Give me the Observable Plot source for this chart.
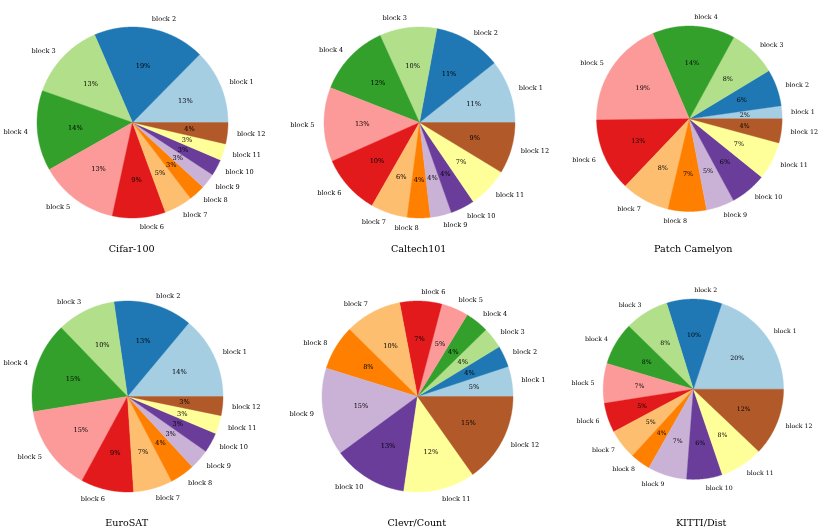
<!DOCTYPE html>
<html><head><meta charset="utf-8">
<script src="https://cdn.jsdelivr.net/npm/d3@7"></script>
<script src="https://cdn.jsdelivr.net/npm/@observablehq/plot@0.6"></script>
<style>
body{margin:0;background:#fff;}
#fig{position:relative;width:830px;height:530px;overflow:hidden;font-family:"DejaVu Serif",serif;background:#fff;}
.cell{position:absolute;will-change:transform;}
.cell svg text{text-rendering:geometricPrecision;}
.title{position:absolute;font-size:9.6px;transform:translate(-50%,-50%);white-space:nowrap;color:#000;font-family:"DejaVu Serif",serif;}
</style></head><body><div id="fig"></div>
<script>
// ---- data ----
const blocks = ["block 1","block 2","block 3","block 4","block 5","block 6","block 7","block 8","block 9","block 10","block 11","block 12"];
const cifar100      = [12.6, 18.9, 13.1, 13.6, 13.4, 9.0, 4.8, 2.8, 2.6, 2.8, 2.8, 3.6];
const caltech101    = [10.7, 11.4, 9.7, 12.3, 12.6, 10.1, 6.2, 3.9, 3.6, 4.1, 6.8, 8.7];
const patchCamelyon = [2.25, 6.4, 8.4, 14.4, 18.75, 12.7, 8.4, 6.7, 4.9, 6.3, 6.6, 4.2];
const eurosat       = [13.9, 13.3, 9.9, 15.3, 14.5, 8.9, 6.6, 4.2, 3.4, 3.4, 3.1, 3.2];
const clevrCount    = [5.1, 3.6, 3.6, 4.0, 4.6, 7.1, 9.6, 7.6, 14.9, 12.6, 12.1, 15.2];
const kittiDist     = [19.9, 9.9, 7.9, 7.7, 7.1, 5.3, 5.4, 3.6, 7.0, 6.4, 7.7, 12.1];
const titles = ["Cifar-100","Caltech101","Patch Camelyon","EuroSAT","Clevr/Count","KITTI/Dist"];
const series = [cifar100, caltech101, patchCamelyon, eurosat, clevrCount, kittiDist];

// ---- style / layout ----
const paired = ["#a6cee3","#1f78b4","#b2df8a","#33a02c","#fb9a99","#e31a1c","#fdbf6f","#ff7f00","#cab2d6","#6a3d9a","#ffff99","#b15928"];
const centers = [[131.7,121.7],[418.7,121.7],[693.3,121.7],[126.7,396],[416.8,396],[701.2,396]];
const titleY = [248,248,248,521.5,521.5,521.5];
const R = 95.5, W = 290, H = 270, CY = 130;

function pieChart(values) {
  const total = d3.sum(values);
  let acc = 0;
  const slices = values.map((v, i) => {
    const a0 = acc / total * 2 * Math.PI; acc += v;
    const a1 = acc / total * 2 * Math.PI;
    return {block: blocks[i], pct: v / total * 100, mid: (a0 + a1) / 2, a0, a1};
  });
  const poly = slices.flatMap(s => {
    const n = Math.max(2, Math.ceil((s.a1 - s.a0) / (Math.PI / 360)));
    const pts = [{block: s.block, x: 0, y: 0}];
    for (let k = 0; k <= n; k++) {
      const t = s.a0 + (s.a1 - s.a0) * k / n;
      pts.push({block: s.block, x: Math.cos(t), y: Math.sin(t)});
    }
    pts.push({block: s.block, x: 0, y: 0});
    return pts;
  });
  const lx = d => 1.1 * Math.cos(d.mid), ly = d => 1.1 * Math.sin(d.mid);
  return Plot.plot({
    width: W, height: H, margin: 0,
    x: {domain: [-W / 2 / R, W / 2 / R], axis: null},
    y: {domain: [-(H - CY) / R, CY / R], axis: null},
    color: {domain: blocks, range: paired},
    style: {background: "transparent", overflow: "visible", fontFamily: "DejaVu Serif, serif", fontSize: "6.6px", color: "black"},
    marks: [
      Plot.line(poly, {x: "x", y: "y", z: "block", fill: "block", stroke: "block", strokeWidth: 0.4, curve: "linear"}),
      Plot.text(slices, {filter: d => Math.cos(d.mid) > 0, x: lx, y: ly, text: "block", textAnchor: "start", fill: "black"}),
      Plot.text(slices, {filter: d => !(Math.cos(d.mid) > 0), x: lx, y: ly, text: "block", textAnchor: "end", fill: "black"}),
      Plot.text(slices, {x: d => 0.6 * Math.cos(d.mid), y: d => 0.6 * Math.sin(d.mid), text: d => Math.round(d.pct) + "%", fill: "black"})
    ]
  });
}

const fig = document.getElementById("fig");
series.forEach((vals, i) => {
  const [cx, cy] = centers[i];
  const cell = document.createElement("div");
  cell.className = "cell";
  cell.style.left = (cx - W / 2) + "px";
  cell.style.top = (cy - CY) + "px";
  cell.appendChild(pieChart(vals));
  fig.appendChild(cell);
  const t = document.createElement("div");
  t.className = "title";
  t.style.left = cx + "px";
  t.style.top = titleY[i] + "px";
  t.textContent = titles[i];
  fig.appendChild(t);
});
</script>
</body></html>
